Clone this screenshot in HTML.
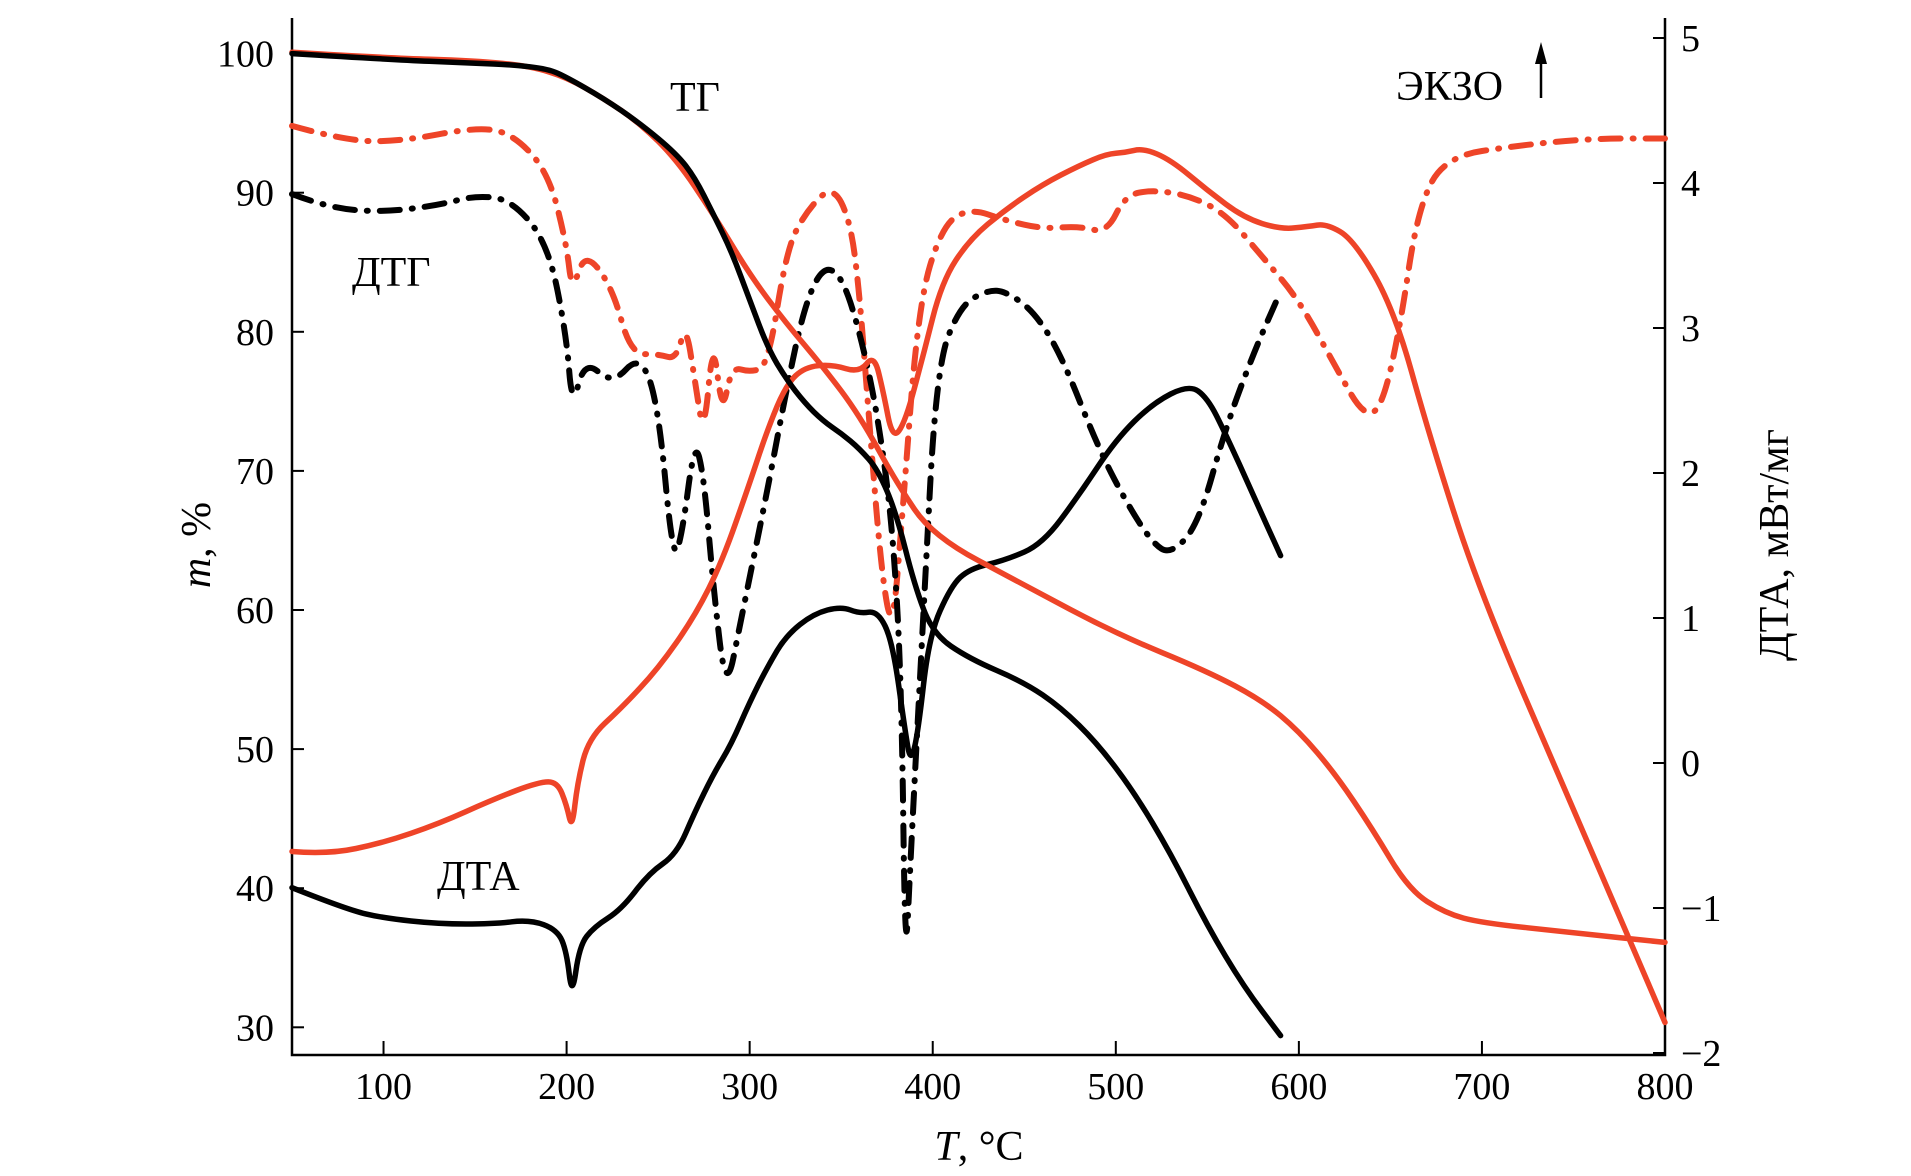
<!DOCTYPE html>
<html><head><meta charset="utf-8">
<style>
html,body{margin:0;padding:0;background:#fff;}
svg{display:block;}
text{font-family:"Liberation Serif","DejaVu Serif",serif;fill:#000;}
</style></head>
<body>
<svg id="chart" width="1911" height="1176" viewBox="0 0 1911 1176" xmlns="http://www.w3.org/2000/svg">
<g id="axes"></g>
<g id="series"></g>
<text x="670" y="111" font-size="42">ТГ</text>
<text x="352" y="286" font-size="42">ДТГ</text>
<text x="437" y="890" font-size="42">ДТА</text>
<text x="1396" y="100" font-size="42">ЭКЗО</text>
<g>
<line x1="1541" y1="98" x2="1541" y2="58" stroke="#000" stroke-width="2.5"/>
<polygon points="1535,64 1547,64 1541,42" fill="#000"/>
</g>
<text transform="translate(210,545) rotate(-90)" text-anchor="middle" font-size="42"><tspan font-style="italic">m</tspan>, %</text>
<text transform="translate(1788,545) rotate(-90)" text-anchor="middle" font-size="42">ДТА, мВт/мг</text>
<text x="979" y="1160" text-anchor="middle" font-size="42"><tspan font-style="italic">T</tspan>, °C</text>
</svg>
<script>
const xTicks=[100,200,300,400,500,600,700,800];
const yTicks=[30,40,50,60,70,80,90,100];
const y2Ticks=[-2,-1,0,1,2,3,4,5];
const tgBlackT=[50,100,150,170,190,200,220,240,260,270,280,290,300,310,320,330,340,350,360,370,380,390,400,420,450,470,490,510,530,550,570,590];
const tgBlackV=[100,99.6,99.3,99.2,98.9,98.3,96.8,95.0,92.8,91.1,88.5,85.8,82.3,78.8,76.6,74.9,73.6,72.7,71.6,70.1,67.0,61.8,58.3,56.5,54.8,53.0,50.4,46.9,42.5,37.3,32.9,29.4];
const tgRedT=[50,100,150,180,200,220,240,260,280,300,320,340,360,380,400,450,500,550,580,600,620,640,660,680,700,750,800];
const tgRedV=[100.1,99.7,99.5,99.1,98.3,96.8,95.0,92.4,88.5,84.1,80.6,77.5,74.0,69.2,65.3,61.8,58.3,55.6,53.5,51.3,48.2,44.3,39.9,38.2,37.5,36.8,36.1];
const dtaBlackT=[50,80,100,130,160,180,195,200,203,207,215,230,245,260,270,280,290,300,310,320,335,350,360,370,378,385,388,392,398,410,420,440,460,480,500,520,540,550,560,575,590];
const dtaBlackV=[-0.86,-1.01,-1.07,-1.11,-1.11,-1.08,-1.15,-1.30,-1.62,-1.26,-1.13,-1.01,-0.76,-0.63,-0.34,-0.08,0.13,0.42,0.67,0.88,1.03,1.08,1.03,1.05,0.84,0.21,0.00,0.21,0.88,1.22,1.34,1.40,1.51,1.85,2.23,2.48,2.61,2.52,2.27,1.85,1.43];
const dtaRedT=[50,70,100,130,160,185,195,200,203,206,212,230,250,270,285,300,310,320,330,345,360,368,373,378,385,395,405,420,440,460,480,495,505,515,530,550,570,590,605,615,630,652,671,698,750,780,800];
const dtaRedV=[-0.61,-0.63,-0.55,-0.42,-0.25,-0.13,-0.13,-0.29,-0.46,-0.13,0.17,0.38,0.65,1.01,1.39,1.93,2.31,2.61,2.73,2.75,2.69,2.82,2.56,2.23,2.35,2.82,3.32,3.61,3.82,3.99,4.12,4.20,4.21,4.24,4.16,3.95,3.76,3.68,3.70,3.72,3.61,3.13,2.27,1.20,-0.32,-1.20,-1.79];
const dtgBlackT=[50,70,100,130,150,170,190,200,203,210,225,240,250,258,263,270,275,280,287,295,310,320,330,340,350,360,370,378,383,385,388,395,402,415,430,440,455,470,490,505,520,530,545,560,575,590];
const dtgBlackV=[89.9,88.9,88.6,89.1,89.8,89.5,86.3,79.7,74.5,78.0,76.2,78.4,74.9,63.5,65.3,72.3,69.6,61.8,53.9,59.1,68.8,75.8,81.9,84.7,84.1,80.1,74.0,66.1,54.8,33.8,42.5,60.0,77.5,81.9,83.0,82.9,81.5,78.4,71.8,67.9,64.8,64.0,66.1,73.1,78.4,82.9];
const dtgRedT=[50,80,110,150,170,190,200,203,210,225,235,250,260,265,270,275,280,285,290,300,310,320,330,345,355,360,365,372,378,383,392,405,420,440,460,480,495,505,520,540,560,580,600,620,635,645,655,665,680,720,760,800];
const dtgRedV=[94.8,93.7,93.7,94.7,94.3,91.5,86.3,82.8,85.8,83.2,78.4,78.4,78.0,80.6,76.6,72.3,79.7,74.0,77.5,77.1,77.5,85.8,88.5,90.6,88.0,82.8,74.0,62.6,58.3,66.1,81.9,87.6,88.9,88.0,87.4,87.6,87.1,89.8,90.2,89.8,88.5,85.4,82.3,77.5,74.0,74.4,80.1,88.9,92.6,93.4,93.9,93.9];

const NS='http://www.w3.org/2000/svg';
const X0=292,X1=1665,YT=18,YB=1055;
const xS=t=>X0+(t-50)/750*(X1-X0);
const yL=v=>53.6+(100-v)*13.91;
const yR=v=>763-v*145;
const axes=document.getElementById('axes');
const ser=document.getElementById('series');
function mk(tag,attrs,parent){const e=document.createElementNS(NS,tag);for(const k in attrs)e.setAttribute(k,attrs[k]);parent.appendChild(e);return e;}
const frame=mk('path',{d:`M${X0},${YT} L${X0},${YB} L${X1},${YB} L${X1},${YT}`,fill:'none',stroke:'#000','stroke-width':2.5},axes);


xTicks.forEach(t=>{
  const l=mk('line',{x1:xS(t),x2:xS(t),y1:YB,y2:YB-14,stroke:'#000','stroke-width':2},axes);
  
  
  const tx=mk('text',{x:xS(t),y:YB+44,'text-anchor':'middle','font-size':38},axes);tx.textContent=t;
  
  
});
yTicks.forEach(v=>{
  const l=mk('line',{x1:X0,x2:X0+12,y1:yL(v),y2:yL(v),stroke:'#000','stroke-width':2},axes);
  
  
  const tx=mk('text',{x:X0-18,y:yL(v)+13,'text-anchor':'end','font-size':38},axes);tx.textContent=v;
  
  
});
y2Ticks.forEach(v=>{
  const l=mk('line',{x1:X1,x2:X1-12,y1:yR(v),y2:yR(v),stroke:'#000','stroke-width':2},axes);
  
  
  const tx=mk('text',{x:X1+16,y:yR(v)+13,'text-anchor':'start','font-size':38},axes);tx.textContent=(v<0?'\u2212'+(-v):v);
  
  
});
const RED='#ee4428';
function line(T,V,yf,color,dash,name){
  const P=T.map((t,i)=>[xS(t),yf(V[i])]);
  let d='M'+P[0][0].toFixed(1)+','+P[0][1].toFixed(1);
  for(let i=1;i<P.length-1;i++){
    const mx=(P[i][0]+P[i+1][0])/2,my=(P[i][1]+P[i+1][1])/2;
    d+=' Q'+P[i][0].toFixed(1)+','+P[i][1].toFixed(1)+' '+mx.toFixed(1)+','+my.toFixed(1);
  }
  const L=P[P.length-1];d+=' L'+L[0].toFixed(1)+','+L[1].toFixed(1);
  const p=mk('path',{d:d,fill:'none',stroke:color,'stroke-width':dash?6:5.5,'stroke-linejoin':'round','stroke-linecap':'round'},ser);
  if(dash)p.setAttribute('stroke-dasharray','20 12 1 12');
  
  
}
line(dtgRedT,dtgRedV,yL,RED,true,'dtg-red-line');
line(dtgBlackT,dtgBlackV,yL,'#000',true,'dtg-black-line');
line(dtaRedT,dtaRedV,yR,RED,false,'dta-red-line');
line(dtaBlackT,dtaBlackV,yR,'#000',false,'dta-black-line');
line(tgRedT,tgRedV,yL,RED,false,'tg-red-line');
line(tgBlackT,tgBlackV,yL,'#000',false,'tg-black-line');
</script>
</body></html>
